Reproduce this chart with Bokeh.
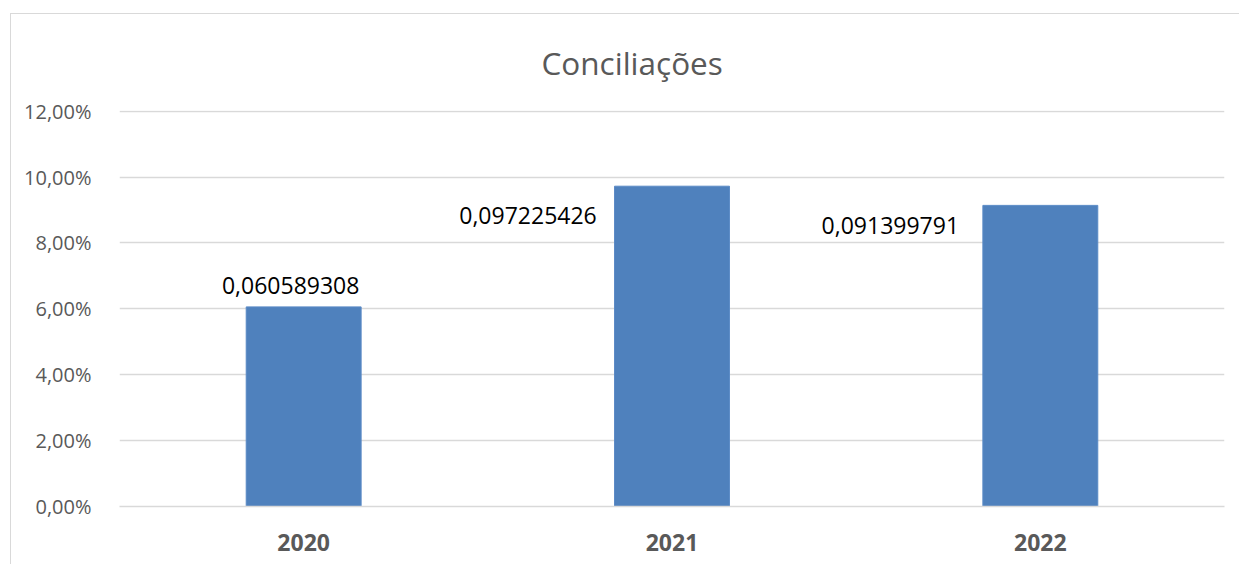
from bokeh.plotting import figure
from bokeh.models import FactorRange, Range1d, FixedTicker, ColumnDataSource
from bokeh.embed import file_html
from bokeh.resources import INLINE
from bokeh.core.properties import value

# ---- data ----
categories = ["2020", "2021", "2022"]
values = [0.060589308, 0.097225426, 0.091399791]
value_labels = ["0,060589308", "0,097225426", "0,091399791"]
y_ticks = [0.0, 0.02, 0.04, 0.06, 0.08, 0.10, 0.12]
y_tick_labels = ["0,00%", "2,00%", "4,00%", "6,00%", "8,00%", "10,00%", "12,00%"]
title_text = "Conciliações"

# label placement (screen px offsets from bar top centre)
label_dx = [-13, -144, -150]
label_dy = [-21, 29, 20]

FONT = "Open Sans"
GREY = "#595959"

p = figure(
    x_range=FactorRange(*categories, range_padding=0),
    y_range=Range1d(0, 0.1202),
    width=1229, height=551,
    output_backend="svg", toolbar_location=None,
    min_border_left=108, min_border_right=16, min_border_top=96, min_border_bottom=59,
)
p.margin = (13, 0, 0, 10)
p.styles = {"border-left": "1px solid #d9d9d9", "border-top": "1px solid #d9d9d9"}

p.title.text = title_text
p.title.align = "left"
p.title.offset = 422
p.title.vertical_align = "top"
p.title.text_font = FONT
p.title.text_font_size = "31.5px"
p.title.text_font_style = "normal"
p.title.text_color = GREY
p.title.standoff = 50

p.outline_line_color = None
p.background_fill_color = "white"
p.border_fill_color = "white"

src = ColumnDataSource(dict(cat=categories, val=values, lab=value_labels, dx=label_dx, dy=label_dy))
p.vbar(x="cat", top="val", width=0.312, source=src, fill_color="#4F81BD", line_color="#5a8ac6", line_width=1)

p.text(x="cat", y="val", text="lab", x_offset="dx", y_offset="dy", source=src,
       text_align="center", text_baseline="middle", text_font=value(FONT),
       text_font_size="23px", text_color="#000000")

# axes
p.yaxis.ticker = FixedTicker(ticks=y_ticks)
p.yaxis.major_label_overrides = {t: l for t, l in zip(y_ticks, y_tick_labels)}
p.yaxis.axis_line_color = None
p.yaxis.major_tick_line_color = None
p.yaxis.minor_tick_line_color = None
p.yaxis.major_label_standoff = 22
p.yaxis.major_label_text_font = FONT
p.yaxis.major_label_text_font_size = "20px"
p.yaxis.major_label_text_color = GREY

p.xaxis.axis_line_color = "#d9d9d9"
p.xaxis.axis_line_width = 1.3
p.xaxis.major_tick_line_color = None
p.xaxis.minor_tick_line_color = None
p.xaxis.major_label_standoff = 21
p.xaxis.major_label_text_font = FONT
p.xaxis.major_label_text_font_size = "23px"
p.xaxis.major_label_text_font_style = "bold"
p.xaxis.major_label_text_color = GREY

p.xgrid.grid_line_color = None
p.ygrid.grid_line_color = "#d9d9d9"
p.ygrid.grid_line_width = 1.3

open("out.html", "w").write(file_html(p, INLINE))
